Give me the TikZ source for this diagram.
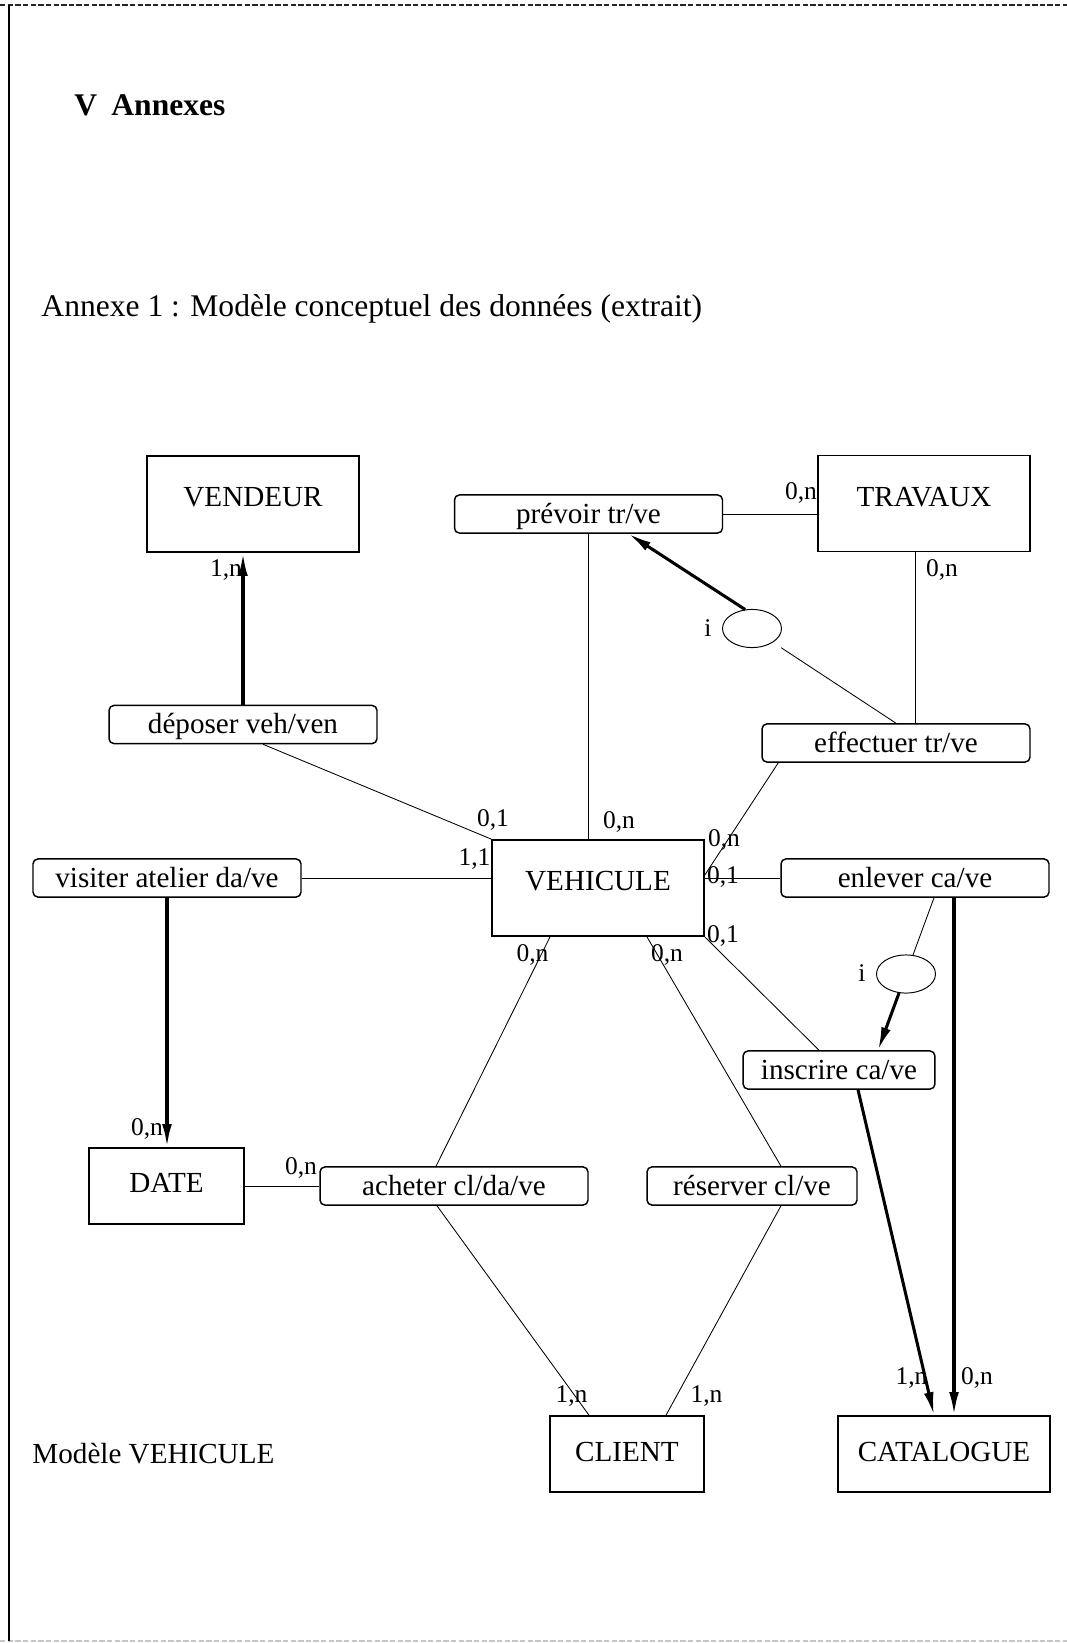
\documentclass[tikz,border=0pt]{standalone}
\usepackage{fontspec}
\setmainfont{Liberation Serif}
\usepackage{tikz}
\usetikzlibrary{arrows.meta,positioning,shapes.geometric,calc}

\begin{document}
\begin{tikzpicture}[
  x=0.412pt, y=-0.412pt,
  every node/.style={font=\fontsize{12}{14}\selectfont, inner sep=0pt},
  entity/.style={draw, line width=0.7pt, minimum width=87.3pt, minimum height=39.6pt, text height=8pt, text depth=5.8pt},
  relation/.style={draw, line width=0.6pt, rounded corners=2pt, minimum width=110.4pt, minimum height=15.7pt, text height=7.5pt, text depth=0pt},
  cif/.style={draw, ellipse, line width=0.4pt, minimum width=24.3pt, minimum height=15.7pt},
  card/.style={font=\fontsize{10.5}{12}\selectfont, text height=7pt, text depth=0pt},
  link/.style={line width=0.35pt},
  arr/.style={-{Latex[length=9.5pt, width=4pt]}, line width=1.25pt},
]
  \useasboundingbox (0,0) rectangle (1067,1643);
  % page frame
  \draw[line width=0.8pt, black!85, dash pattern=on 2.2pt off 0.95pt] (0,5) -- (1067,5);
  \draw[line width=0.8pt, gray!45, dash pattern=on 2.2pt off 0.95pt] (0,1641) -- (1067,1641);
  \draw[line width=0.9pt] (9,5) -- (9,1641);

  % headings
  \node[anchor=west, font=\fontsize{13}{15}\selectfont\bfseries] (annexes) at (74,105) {V\hspace{0.45em}Annexes};
  \node[anchor=west, font=\fontsize{13}{15}\selectfont] (titre) at (41,309) {Annexe 1 : Modèle conceptuel des données (extrait)};
  \node[anchor=west] (legende) at (32,1454) {Modèle VEHICULE};

  % entities
  \node[entity] (vendeur) at (253,504) {VENDEUR};
  \node[entity] (travaux) at (924,503.5) {TRAVAUX};
  \node[entity] (vehicule) at (598,888) {VEHICULE};
  \node[entity, minimum width=63.9pt, minimum height=31.3pt, text depth=2.5pt] (date) at (166.5,1186) {DATE};
  \node[entity, minimum width=63.4pt, minimum height=31.3pt, text depth=1.5pt] (client) at (627,1454) {CLIENT};
  \node[entity, minimum height=31.3pt, text depth=1.5pt] (catalogue) at (944,1454) {CATALOGUE};

  % relations
  \node[relation] (prevoir) at (588.5,514) {prévoir tr/ve};
  \node[relation] (deposer) at (243,724.5) {déposer veh/ven};
  \node[relation] (effectuer) at (896,743) {effectuer tr/ve};
  \node[relation] (visiter) at (167,878) {visiter atelier da/ve};
  \node[relation] (enlever) at (915,878) {enlever ca/ve};
  \node[relation, minimum width=79pt] (inscrire) at (839,1070) {inscrire ca/ve};
  \node[relation] (acheter) at (454,1186) {acheter cl/da/ve};
  \node[relation, minimum width=86.5pt] (reserver) at (752,1186) {réserver cl/ve};

  % inclusion constraints
  \node[cif] (ciftr) at (752,628.5) {};
  \node[cif] (cifca) at (906,974) {};
  \node[card] (itr) at (708,628) {i};
  \node[card] (ica) at (862,973) {i};

  % links
  \coordinate (travout) at ($(travaux.south)+(-9,0)$);
  \coordinate (enlout) at ($(enlever.south)+(39,0)$);
  \draw[link] (prevoir.east) -- (prevoir.east -| travaux.west);
  \draw[link] (prevoir.south) -- (prevoir.south |- vehicule.north);
  \draw[link] (travout) -- (travout |- effectuer.north);
  \draw[link, shorten >=4pt] (effectuer.north) -- (ciftr);
  \draw[link] ($(deposer.south)+(20,0)$) -- (vehicule.north west);
  \draw[link] (visiter.east) -- (visiter.east -| vehicule.west);
  \draw[link] (date.east) -- (date.east -| acheter.west);
  \draw[link] ($(acheter.north)+(-18,0)$) -- ($(vehicule.south)+(-48,0)$);
  \draw[link] ($(vehicule.south)+(49,0)$) -- ($(reserver.north)+(29,0)$);
  \draw[link] ($(vehicule.east)+(0,-13)$) -- ($(effectuer.south west)+(17,0)$);
  \draw[link] (enlever.west) -- (enlever.west -| vehicule.east);
  \draw[link] (vehicule.south east) -- ($(inscrire.north)+(-20,0)$);
  \draw[link] ($(enlever.south)+(19,0)$) -- (cifca);
  \draw[link] ($(acheter.south)+(-17,0)$) -- ($(client.north)+(-38,0)$);
  \draw[link] ($(reserver.south)+(29,0)$) -- ($(client.north)+(39,0)$);

  % functional dependencies
  \draw[arr] (deposer.north) -- (deposer.north |- vendeur.south);
  \draw[arr] (visiter.south) -- (visiter.south |- date.north);
  \draw[arr] (ciftr.110) -- ($(prevoir.south)+(40,0)$);
  \draw[arr] (cifca) -- ($(inscrire.north)+(39,0)$);
  \draw[arr] ($(inscrire.south)+(19,0)$) -- ($(catalogue.north)+(-10,0)$);
  \draw[arr] (enlout) -- (enlout |- catalogue.north);

  % cardinalities
  \node[card] (c1) at (801,491.5) {0,n};
  \node[card] (c2) at (619,820) {0,n};
  \node[card] (c3) at (942,568) {0,n};
  \node[card] (c4) at (226,568) {1,n};
  \node[card] (c5) at (493,818) {0,1};
  \node[card] (c6) at (474.5,856.5) {1,1};
  \node[card] (c7) at (147,1126.5) {0,n};
  \node[card] (c8) at (301,1166) {0,n};
  \node[card] (c9) at (532.5,952.5) {0,n};
  \node[card] (c10) at (667,952.5) {0,n};
  \node[card] (c11) at (724,837.5) {0,n};
  \node[card] (c12) at (723,875) {0,1};
  \node[card] (c13) at (723,934) {0,1};
  \node[card] (c14) at (911.5,1376) {1,n};
  \node[card] (c15) at (977,1376) {0,n};
  \node[card] (c16) at (571.5,1394) {1,n};
  \node[card] (c17) at (706.5,1394) {1,n};
\end{tikzpicture}
\end{document}
